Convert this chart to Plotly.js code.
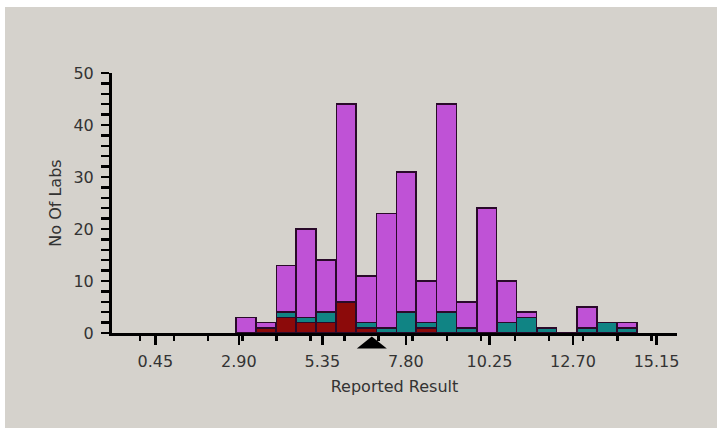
<!DOCTYPE html>
<html>
<head>
<meta charset="utf-8">
<script src="https://cdn.plot.ly/plotly-3.0.1.min.js"></script>
<style>
  html, body { margin: 0; padding: 0; background: #ffffff; width: 717px; height: 434px; overflow: hidden; }
  #chart { position: absolute; left: 5px; top: 7px; width: 712px; height: 421px; }
</style>
</head>
<body>
<div id="chart"></div>
<script>
// Bin centres (Reported Result)
const binCenters = [3.11, 3.70, 4.29, 4.87, 5.46, 6.05, 6.64, 7.23, 7.81, 8.40,
                    8.99, 9.58, 10.17, 10.76, 11.34, 11.93, 12.52, 13.11, 13.70, 14.28];
// Stacked counts (No Of Labs), bottom to top
const redCounts    = [0, 1, 3, 2, 2, 6, 1, 0, 0, 1, 0, 0, 0, 0, 0, 0, 0, 0, 0, 0];
const tealCounts   = [0, 0, 1, 1, 2, 0, 1, 1, 4, 1, 4, 1, 0, 2, 3, 1, 0, 1, 2, 1];
const violetCounts = [3, 1, 9, 17, 10, 38, 9, 22, 27, 8, 40, 5, 24, 8, 1, 0, 0, 4, 0, 1];
// Assigned value marker (triangle under the axis)
const assignedValue = 6.80;
// Axis labels
const xTitle = "Reported Result";
const yTitle = "No Of Labs";

const outline = { color: '#2a0a2a', width: 1.5 };
const traces = [
  { type: 'bar', x: binCenters, y: redCounts, marker: { color: '#8c0a0a', line: outline }, hoverinfo: 'x+y' },
  { type: 'bar', x: binCenters, y: tealCounts, marker: { color: '#108484', line: outline }, hoverinfo: 'x+y' },
  { type: 'bar', x: binCenters, y: violetCounts, marker: { color: '#bf52d6', line: outline }, hoverinfo: 'x+y' }
];

const tickFont = { family: 'DejaVu Sans', size: 16, color: '#333333' };
const titleFont = { family: 'DejaVu Sans', size: 16, color: '#333333' };

const layout = {
  width: 712, height: 421,
  margin: { l: 107, r: 40, t: 66, b: 95, pad: 0 },
  paper_bgcolor: '#d5d2cc',
  plot_bgcolor: '#d5d2cc',
  barmode: 'stack',
  bargap: 0,
  showlegend: false,
  xaxis: {
    range: [-0.82, 15.75],
    showgrid: false, zeroline: false,
    showline: true, linecolor: '#000000', linewidth: 3,
    ticks: 'outside', ticklen: 9, tickwidth: 2.5, tickcolor: '#000000',
    tick0: 0.45, dtick: 2.45, tickformat: '.2f',
    ticklabelstandoff: 3,
    minor: { tick0: 0, dtick: 1, ticks: 'outside', ticklen: 5, tickwidth: 2.5, tickcolor: '#000000', showgrid: false },
    tickfont: tickFont,
    title: { text: xTitle, font: titleFont, standoff: 11 }
  },
  yaxis: {
    range: [0, 50],
    showgrid: false, zeroline: false,
    showline: true, linecolor: '#000000', linewidth: 3,
    ticks: 'outside', ticklen: 8, tickwidth: 2.5, tickcolor: '#000000',
    tick0: 0, dtick: 10,
    ticklabelstandoff: 4,
    minor: { dtick: 2, ticks: 'outside', ticklen: 8, tickwidth: 2.5, tickcolor: '#000000', showgrid: false },
    tickfont: tickFont,
    title: { text: yTitle, font: titleFont, standoff: 8 }
  },
  shapes: [{
    type: 'path',
    xref: 'x', xsizemode: 'pixel', xanchor: assignedValue,
    yref: 'paper', ysizemode: 'pixel', yanchor: 0,
    path: 'M-15,-15.5 L15,-15.5 L0,-3.5 Z',
    fillcolor: '#000000', line: { width: 0 }
  }]
};

Plotly.newPlot('chart', traces, layout, { displayModeBar: false, staticPlot: true });
</script>
</body>
</html>
